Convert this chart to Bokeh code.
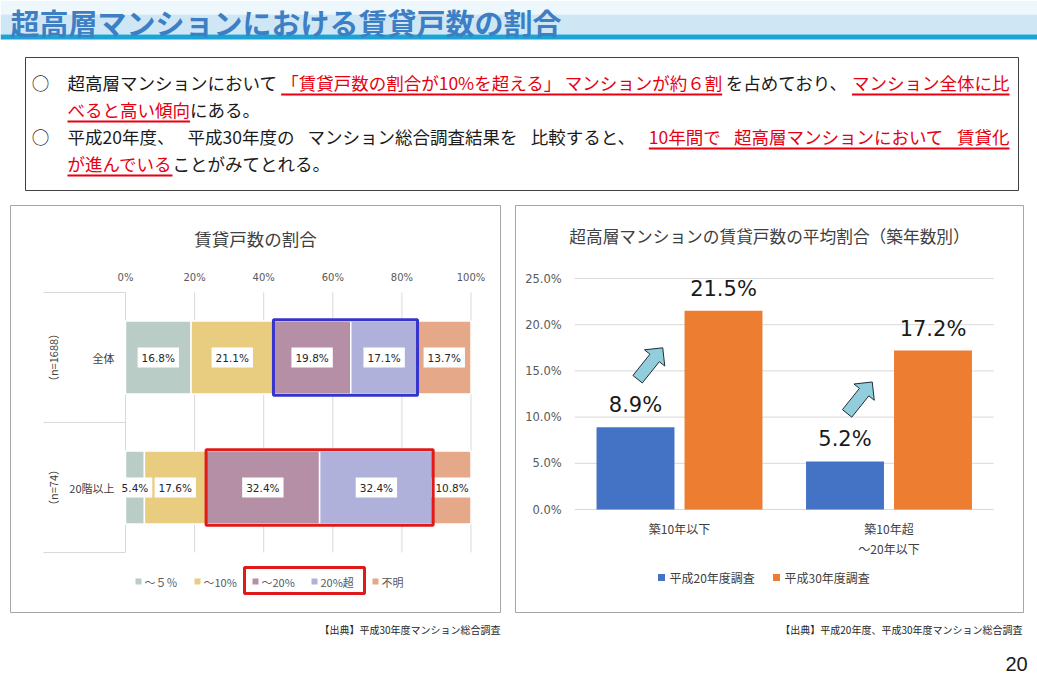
import numpy as np
from bokeh.plotting import figure
from bokeh.models import Range1d
from bokeh.core.properties import value
from bokeh.embed import file_html
from bokeh.resources import INLINE

W, H = 1037, 675
JP = "Noto Sans CJK JP"
NUM = "DejaVu Sans"

# ---------------- data ----------------
page_title = "超高層マンションにおける賃貸戸数の割合"

left_title = "賃貸戸数の割合"
left_groups = ["全体", "20階以上"]
left_n = ["（n=1688）", "（n=74）"]
left_series = ["～５％", "～10%", "～20%", "20%超", "不明"]
left_colors = ["#b9ccc5", "#e8cc7f", "#b58fa6", "#afb1da", "#e5a98a"]
share_all = [16.8, 21.1, 19.8, 17.1, 13.7]
share_20f = [5.4, 17.6, 32.4, 32.4, 10.8]
left_ticks = [0, 20, 40, 60, 80, 100]

right_title = "超高層マンションの賃貸戸数の平均割合（築年数別）"
right_cats = ["築10年以下", "築10年超\n～20年以下"]
right_series = ["平成20年度調査", "平成30年度調査"]
right_colors = ["#4472c4", "#ed7d31"]
h20 = [8.9, 5.2]
h30 = [21.5, 17.2]
right_ticks = [0, 5, 10, 15, 20, 25]

src_left = "【出典】平成30年度マンション総合調査"
src_right = "【出典】平成20年度、平成30年度マンション総合調査"

# (text chunk, red?) ; justified lines are stretched to the box width
body_lines = [
    [("超高層マンションにおいて", 0), ("「賃貸戸数の割合が10%を超える」", 1), ("マンションが約６割", 1),
     ("を占めており、", 0), ("マンション全体に比", 1)],
    [("べると高い傾向", 1), ("にある。", 0)],
    [("平成20年度、", 0), ("平成30年度の", 0), ("マンション総合調査結果を", 0), ("比較すると、", 0),
     ("10年間で", 1), ("超高層マンションにおいて", 1), ("賃貸化", 1)],
    [("が進んでいる", 1), ("ことがみてとれる。", 0)],
]
justify = [True, False, True, False]
bullet_lines = [0, 2]

# ---------------- layout constants (pixels) ----------------
LX0, LXS = 125.0, 3.455      # left chart: 0% position, px per %
LY0, LYS = 357.0, 130.0      # left chart: first row centre, px per row
RX0, RXS = 679.0, 209.5      # right chart: first group centre, px per group
RY0, RYS = 509.0, 9.24       # right chart: 0% baseline, px per %

p = figure(width=W, height=H, x_range=Range1d(0, W), y_range=Range1d(H, 0),
           output_backend="svg", toolbar_location=None, min_border=0,
           x_axis_type=None, y_axis_type=None)
p.outline_line_color = None
p.background_fill_color = "white"
p.border_fill_color = "white"
p.extra_x_ranges = {"lx": Range1d(-LX0 / LXS, (W - LX0) / LXS),
                    "rx": Range1d(-RX0 / RXS, (W - RX0) / RXS)}
p.extra_y_ranges = {"ly": Range1d((H - LY0) / LYS, -LY0 / LYS),
                    "ry": Range1d(-(H - RY0) / RYS, RY0 / RYS)}

L = dict(x_range_name="lx", y_range_name="ly")
R = dict(x_range_name="rx", y_range_name="ry")

# ---------------- header ----------------
p.quad(left=0, right=W, top=0, bottom=14, fill_color="#eef7fc", line_color=None)
p.quad(left=0, right=W, top=14, bottom=34, fill_color="#cfe7f5", line_color=None)
p.quad(left=0, right=W, top=34, bottom=39, fill_color="#1ba3d3", line_color=None)
p.text(x=[10], y=[0], text=[page_title], text_font=value(JP), text_font_style="bold",
       text_font_size="29px", text_color="#3d7fc4", text_baseline="top")

# ---------------- text box ----------------
p.quad(left=25, right=1018, top=57, bottom=190, fill_color=None, line_color="#404040", line_width=1)


def tw(s, fs):
    w = 0.0
    for ch in s:
        if ch.isdigit() and ord(ch) < 128:
            w += 0.555
        elif ch == "%":
            w += 0.88
        elif ord(ch) < 128:
            w += 0.5
        else:
            w += 1.0
    return w * fs


BFS = 17.5
X_START, X_END = 67.0, 1009.0
line_y = [82, 109, 136, 163]
for li, segs in enumerate(body_lines):
    y = line_y[li]
    widths = [tw(s, BFS) for s, _ in segs]
    gap = 0.0
    if justify[li] and len(segs) > 1:
        gap = max(0.0, (X_END - X_START - sum(widths)) / (len(segs) - 1))
    if li in bullet_lines:
        p.text(x=[40], y=[y], text=["○"], text_font=value(JP), text_font_size=f"{BFS}px",
               text_align="center", text_baseline="middle", text_color="#1a1a1a")
    x = X_START
    run_start = None
    for k, ((s, red), w) in enumerate(zip(segs, widths)):
        col = "#e60012" if red else "#1a1a1a"
        p.text(x=[x], y=[y], text=[s], text_font=value(JP), text_font_size=f"{BFS}px",
               text_align="left", text_baseline="middle", text_color=col)
        if red and run_start is None:
            run_start = x
        nxt_red = k + 1 < len(segs) and segs[k + 1][1]
        if red and not nxt_red:
            p.segment(x0=[run_start], x1=[x + w], y0=[y + 12], y1=[y + 12],
                      line_color="#e60012", line_width=2)
            run_start = None
        x += w + gap

# ---------------- panels ----------------
p.quad(left=[10, 515], right=[500, 1023], top=[205, 205], bottom=[612, 612],
       fill_color=None, line_color="#a6a6a6", line_width=1)

# ---------------- left chart ----------------
p.text(x=[(10 + 500) / 2], y=[238], text=[left_title], text_font=value(JP), text_font_size="17.5px",
       text_align="center", text_baseline="middle", text_color="#404040")

p.segment(x0=left_ticks, x1=left_ticks, y0=[-0.5] * len(left_ticks), y1=[1.5] * len(left_ticks),
          line_color="#d9d9d9", line_width=1, **L)
p.text(x=left_ticks, y=[-0.5] * len(left_ticks), text=[f"{t}%" for t in left_ticks], y_offset=-15,
       text_font=value(NUM), text_font_size="10px", text_align="center", text_baseline="middle",
       text_color="#595959", **L)
# category axis separators (x in page px, y in row units)
p.segment(x0=[43] * 3, x1=[LX0] * 3, y0=[-0.5, 0.5, 1.5], y1=[-0.5, 0.5, 1.5],
          line_color="#d9d9d9", line_width=1, y_range_name="ly")

rows = [share_all, share_20f]
norm = [[v / sum(r) * 100 for v in r] for r in rows]
for j, name in enumerate(left_series):
    lefts = [sum(n[:j]) for n in norm]
    rights = [sum(n[:j + 1]) for n in norm]
    ys = list(range(len(rows)))
    p.hbar(y=ys, left=lefts, right=rights, height=0.56, fill_color=left_colors[j],
           line_color="white", line_width=1.5, **L)
for j in range(len(left_series)):
    mids = [sum(n[:j]) + n[j] / 2 for n in norm]
    labs = [f"{r[j]:.1f}%" for r in rows]
    p.text(x=mids, y=list(range(len(rows))), text=labs, text_font=value(NUM), text_font_size="10.5px",
           text_align="center", text_baseline="middle", text_color="#262626",
           background_fill_color="white", padding=4, **L)

# highlight boxes (~20% and 20%超)
hl_l = [sum(n[:2]) for n in norm]
hl_r = [sum(n[:4]) for n in norm]
p.quad(left=hl_l, right=hl_r, top=[-0.29, 0.71], bottom=[0.29, 1.29], fill_color=None,
       line_color=["#3535cc", "#e01a1a"], line_width=3, **L)

p.text(x=[0, 0], y=[0, 1], text=left_groups, x_offset=-11, text_font=value(JP), text_font_size="11px",
       text_align="right", text_baseline="middle", text_color="#404040", **L)
p.text(x=[0, 0], y=[0, 1], text=left_n, x_offset=-73, angle=np.pi / 2, text_font=value(JP),
       text_font_size="11px", text_align="center", text_baseline="middle", text_color="#404040", **L)

# left legend
lg_x = [138, 197, 255, 314, 375]
p.scatter(x=lg_x, y=[581] * 5, marker="square", size=6, fill_color=left_colors, line_color=None)
p.text(x=[v + 6 for v in lg_x], y=[581] * 5, text=left_series, text_font=value(JP), text_font_size="11px",
       text_align="left", text_baseline="middle", text_color="#595959")
p.quad(left=[244], right=[364], top=[567], bottom=[593], fill_color=None, line_color="#e01a1a", line_width=3)

# ---------------- right chart ----------------
p.text(x=[(515 + 1023) / 2], y=[235], text=[right_title], text_font=value(JP), text_font_size="16.7px",
       text_align="center", text_baseline="middle", text_color="#404040")
p.segment(x0=[-0.5] * len(right_ticks), x1=[1.5] * len(right_ticks), y0=right_ticks, y1=right_ticks,
          line_color="#d9d9d9", line_width=1, **R)
p.text(x=[-0.5] * len(right_ticks), y=right_ticks, text=[f"{t:.1f}%" for t in right_ticks], x_offset=-13,
       text_font=value(NUM), text_font_size="11.5px", text_align="right", text_baseline="middle",
       text_color="#595959", **R)

gx = list(range(len(right_cats)))
OFF, BW = 0.21, 0.372
p.vbar(x=[g - OFF for g in gx], top=h20, width=BW, fill_color=right_colors[0], line_color=None, **R)
p.vbar(x=[g + OFF for g in gx], top=h30, width=BW, fill_color=right_colors[1], line_color=None, **R)
p.text(x=[g - OFF for g in gx], y=h20, text=[f"{v:.1f}%" for v in h20], y_offset=-22,
       text_font=value(NUM), text_font_size="21px", text_align="center", text_baseline="middle",
       text_color="#1a1a1a", **R)
p.text(x=[g + OFF for g in gx], y=h30, text=[f"{v:.1f}%" for v in h30], y_offset=-22,
       text_font=value(NUM), text_font_size="21px", text_align="center", text_baseline="middle",
       text_color="#1a1a1a", **R)

for g, cat in enumerate(right_cats):
    for k, line in enumerate(cat.split("\n")):
        p.text(x=[g], y=[0], text=[line], y_offset=19 + 20 * k, text_font=value(JP), text_font_size="12px",
               text_align="center", text_baseline="middle", text_color="#404040", **R)


# arrows (from the 平成20 label up toward the 平成30 bar)
def px_rx(v):
    return RX0 + v * RXS


def py_ry(v):
    return RY0 - v * RYS


axs, ays = [], []
for g in gx:
    T = np.array([px_rx(g - 0.2), py_ry(h20[g] + 5.2)])
    P = np.array([px_rx(g - 0.08), py_ry(h20[g] + 8.6)])
    u = (P - T) / np.linalg.norm(P - T)
    n = np.array([-u[1], u[0]])
    Hb = P - u * 13
    pts = [T + n * 6, Hb + n * 6, Hb + n * 13, P, Hb - n * 13, Hb - n * 6, T - n * 6]
    axs.append([float(q[0]) for q in pts])
    ays.append([float(q[1]) for q in pts])
p.patches(xs=axs, ys=ays, fill_color="#92cddc", line_color="#1f2d3d", line_width=1)

# right legend
rl_x = [661, 776]
p.scatter(x=rl_x, y=[577] * 2, marker="square", size=7, fill_color=right_colors, line_color=None)
p.text(x=[v + 8 for v in rl_x], y=[577] * 2, text=right_series, text_font=value(JP), text_font_size="12px",
       text_align="left", text_baseline="middle", text_color="#404040")

# ---------------- footers ----------------
p.text(x=[500, 1022], y=[629, 629], text=[src_left, src_right], text_font=value(JP), text_font_size="10px",
       text_align="right", text_baseline="middle", text_color="#262626")
p.text(x=[1016], y=[656], text=["20"], text_font=value("Liberation Sans"), text_font_size="20px",
       text_align="center", text_baseline="top", text_color="#1a1a1a")

open("out.html", "w").write(file_html(p, INLINE))
